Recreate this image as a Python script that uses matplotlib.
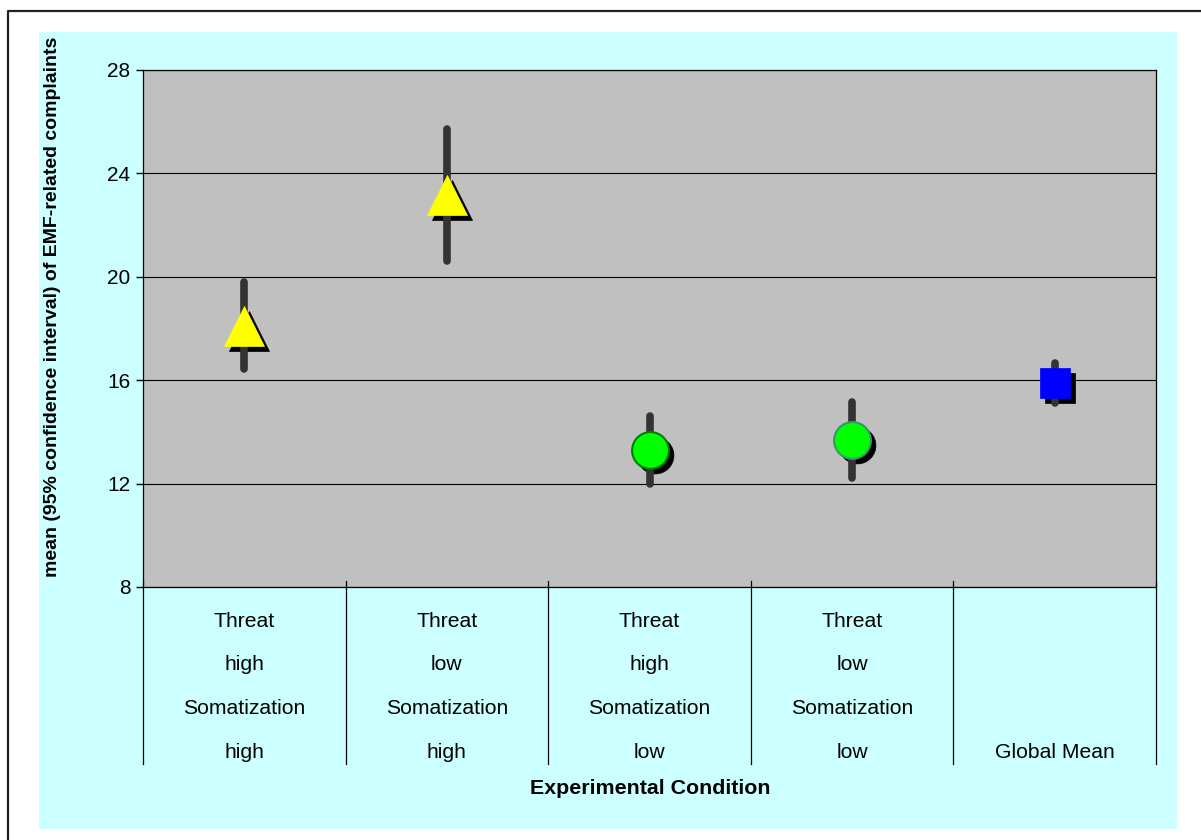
import matplotlib
matplotlib.use("Agg")
import matplotlib.pyplot as plt
from matplotlib.patches import Rectangle
from matplotlib.lines import Line2D
from matplotlib.transforms import offset_copy, blended_transform_factory

plt.rcParams['font.family'] = ['Liberation Sans', 'DejaVu Sans']

# ---- data -------------------------------------------------------------
category_lines = [
    ["Threat", "high", "Somatization", "high"],
    ["Threat", "low", "Somatization", "high"],
    ["Threat", "high", "Somatization", "low"],
    ["Threat", "low", "Somatization", "low"],
    ["", "", "", "Global Mean"],
]
means = [18.1, 23.15, 13.3, 13.7, 15.9]
ci_low = [16.45, 20.6, 12.0, 12.2, 15.1]
ci_high = [19.8, 25.7, 14.6, 15.15, 16.65]
y_ticks = [8, 12, 16, 20, 24, 28]
y_label = "mean (95% confidence interval) of EMF-related complaints"
x_label = "Experimental Condition"

# ---- marker styles per condition --------------------------------------
styles = [
    dict(marker="^", ms=29, mfc="#FFFF00", mec="#FFFF00", mew=0.5),
    dict(marker="^", ms=29, mfc="#FFFF00", mec="#FFFF00", mew=0.5),
    dict(marker="o", ms=26.5, mfc="#00FF00", mec="#008000", mew=1.5),
    dict(marker="o", ms=26.5, mfc="#00FF00", mec="#339966", mew=1.5),
    dict(marker="s", ms=21, mfc="#0000FF", mec="#0000FF", mew=0.5),
]

W, H = 1201, 840
fig = plt.figure(figsize=(W / 100, H / 100), dpi=100)
fig.patch.set_facecolor("white")


def fx(px):
    return px / W


def fy(py):
    return 1 - py / H


# outer frame (left and top edges fall inside the canvas)
fig.add_artist(Line2D([fx(8), fx(8), fx(W + 5)], [fy(H + 5), fy(11), fy(11)],
                      transform=fig.transFigure, color="#222222", lw=1.6))
# light cyan chart panel
fig.add_artist(Rectangle((fx(39), fy(829)), fx(1177) - fx(39), fy(32) - fy(829),
                         transform=fig.transFigure, facecolor="#CCFFFF",
                         edgecolor="none", zorder=0))

ax = fig.add_axes([fx(143), fy(587), fx(1156) - fx(143), fy(70) - fy(587)])
ax.set_facecolor("#C0C0C0")
ax.set_zorder(2)
ax.set_xlim(-0.5, len(means) - 0.5)
ax.set_ylim(y_ticks[0], y_ticks[-1])
ax.set_yticks(y_ticks)
ax.set_xticks([])
ax.tick_params(axis="y", length=5, width=1, pad=4, labelsize=15, colors="black")
ax.yaxis.grid(True, color="black", lw=0.8)
ax.set_axisbelow(True)
for sp in ax.spines.values():
    sp.set_color("black")
    sp.set_linewidth(0.9)

# category separators extending below the plot
trans = blended_transform_factory(ax.transData, ax.transAxes)
bottom_frac = -(764 - 587) / (587 - 70)
top_frac = 6 / (587 - 70)
for i in range(len(means) + 1):
    ax.plot([i - 0.5, i - 0.5], [top_frac, bottom_frac], transform=trans,
            color="black", lw=0.9, clip_on=False, zorder=1)

# category labels (four rows)
row_base = [627, 670.5, 714, 757.5]
for i, lines in enumerate(category_lines):
    for r, txt in enumerate(lines):
        if txt:
            ax.text(i, (587 - row_base[r]) / (587 - 70), txt, transform=trans,
                    ha="center", va="baseline", fontsize=15.2, clip_on=False)

# error bars, shadows and markers
shadow = offset_copy(ax.transData, fig=fig, x=5, y=-5, units="dots")
for i, (m, lo, hi, st) in enumerate(zip(means, ci_low, ci_high, styles)):
    ax.plot([i], [m], marker=st["marker"], ms=st["ms"], mfc="black", mec="black",
            mew=0.5, transform=shadow, zorder=3, linestyle="none")
    ax.plot([i, i], [lo, hi], color="#333333", lw=5.5, solid_capstyle="round", zorder=4)
    ax.plot([i], [m], linestyle="none", zorder=5, **st)

fig.text(fx(650), fy(788), x_label, ha="center", va="center",
         fontsize=15.4, fontweight="bold")
fig.text(fx(53), fy(307), y_label, ha="center", va="center", rotation=90,
         fontsize=14, fontweight="bold")

fig.savefig("out.png", dpi=100)
